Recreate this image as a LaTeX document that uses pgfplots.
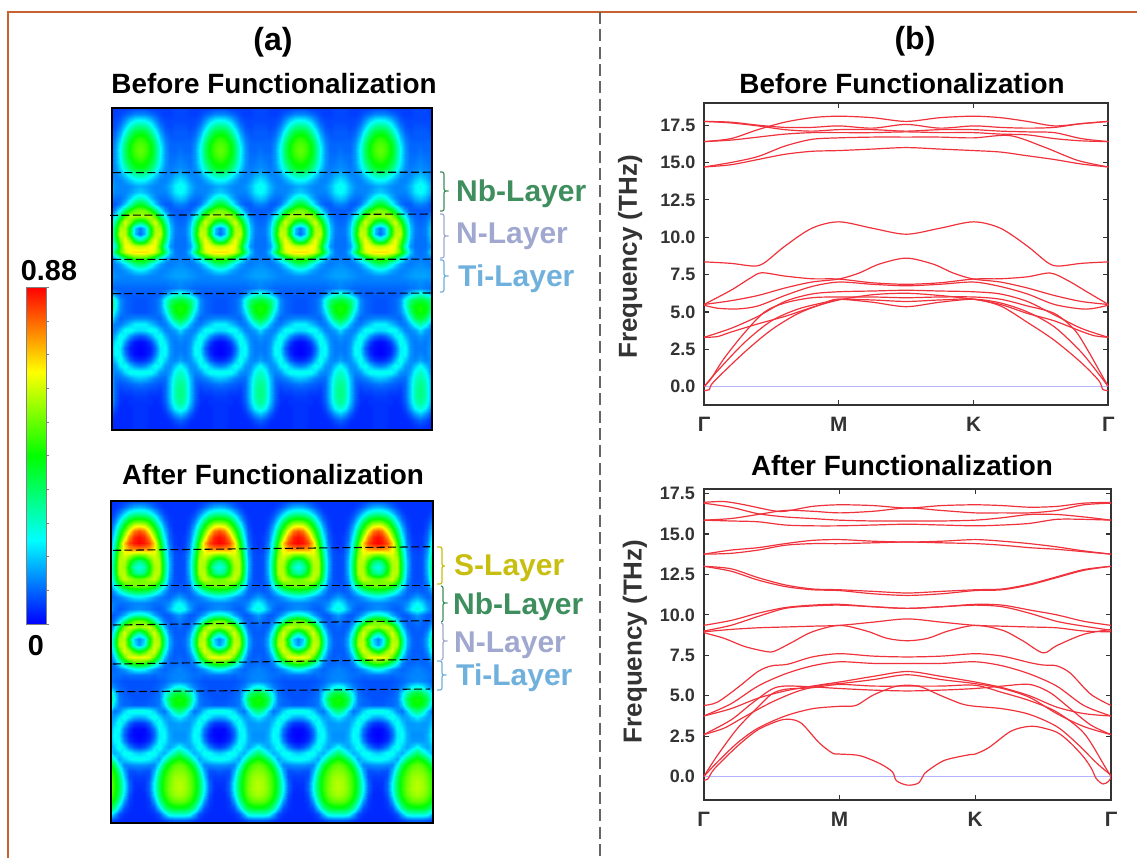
\documentclass[border=0pt]{standalone}
\usepackage{fontspec}
\setmainfont{Liberation Sans}
\usepackage{pgfplots}
\usepackage{pgfplotstable}
\pgfplotsset{compat=1.18}
\pgfplotsset{colormap={hm}{rgb255=(0,0,255) rgb255=(0,255,255) rgb255=(0,255,0) rgb255=(255,255,0) rgb255=(255,0,0)},colormap name=hm}
\pgfplotsset{table/x index=0,table/y index=0}
\definecolor{framecol}{HTML}{C8632F}
\definecolor{axcol}{HTML}{333333}
\definecolor{nbcol}{HTML}{3E8E5E}
\definecolor{ncol}{HTML}{A0A8D0}
\definecolor{ticol}{HTML}{6FB0DC}
\definecolor{scol}{HTML}{C8BE10}
\definecolor{bandcol}{HTML}{F0323C}
\newcommand{\fs}[1]{\fontsize{#1}{#1}\selectfont\bfseries}
\tikzset{band/.style={bandcol,line width=0.9pt,smooth,tension=0.5},
 dl/.style={black,line width=0.8pt,dash pattern=on 6pt off 2.6pt}}
\pgfplotsset{heat/.style={scale only axis,width=240pt,y dir=reverse,ticks=none,axis on top,
  axis line style={black,line width=2.2pt},point meta min=0,point meta max=1},
 tile/.style={surf,shader=interp,mesh/cols=9,point meta=\thisrow{z}},
 tileb/.style={surf,shader=interp,mesh/cols=9,point meta=\thisrow{z},opacity=0.5},
 bandax/.style={scale only axis,xmin=0,xmax=3,xtick={0,1,2,3},xticklabels={Γ,M,K,Γ},
  ytick={0,2.5,5,7.5,10,12.5,15,17.5},yticklabels={0.0,2.5,5.0,7.5,10.0,12.5,15.0,17.5},
  tick align=inside,tick pos=both,major tick length=3.75pt,
  tick style={axcol,line width=0.9pt},axis line style={axcol,line width=1.4pt},
  yticklabel style={font=\fs{13.5},text=axcol,xshift=-3pt},xticklabel style={font=\fs{15.6},text=axcol,yshift=-5.5pt}}}
\pgfplotstableread{
z
.07
.07
.06
.06
.06
.06
.06
.07
.07
.13
.13
.11
.09
.07
.06
.06
.07
.07
.25
.24
.2
.14
.09
.07
.07
.07
.07
.37
.35
.29
.2
.12
.08
.07
.08
.08
.47
.45
.38
.27
.16
.1
.08
.09
.09
.54
.52
.45
.34
.2
.12
.09
.09
.09
.58
.56
.5
.39
.24
.14
.1
.1
.1
.6
.57
.51
.41
.26
.15
.1
.1
.11
.58
.55
.5
.4
.25
.15
.11
.11
.12
.53
.51
.46
.37
.24
.15
.11
.12
.13
.48
.46
.41
.31
.21
.14
.12
.13
.14
.36
.34
.29
.22
.16
.13
.13
.16
.18
.25
.24
.2
.16
.13
.13
.15
.2
.23
.17
.16
.14
.13
.13
.14
.18
.24
.27
.2
.18
.15
.13
.13
.13
.17
.23
.26
.32
.28
.2
.14
.11
.11
.13
.18
.2
.47
.42
.31
.2
.12
.09
.09
.12
.13
.62
.6
.52
.4
.25
.14
.09
.09
.09
.66
.66
.68
.58
.4
.25
.13
.1
.09
.4
.47
.62
.71
.56
.36
.17
.11
.1
.12
.2
.46
.67
.66
.43
.2
.12
.11
.1
.19
.45
.68
.7
.45
.2
.12
.11
.33
.42
.63
.74
.62
.4
.18
.11
.11
.68
.7
.74
.74
.55
.3
.15
.11
.11
.78
.78
.76
.7
.58
.4
.2
.12
.11
.58
.56
.5
.42
.3
.18
.13
.12
.12
.4
.37
.3
.22
.16
.13
.12
.13
.14
.24
.22
.18
.15
.13
.13
.14
.15
.15
.14
.14
.13
.13
.13
.14
.15
.16
.16
.12
.12
.12
.12
.12
.12
.13
.13
.14
.1
.1
.1
.1
.1
.1
.11
.12
.13
.09
.09
.09
.09
.1
.14
.2
.27
.3
.08
.08
.09
.1
.14
.27
.38
.43
.45
.08
.08
.09
.1
.14
.27
.42
.5
.52
.08
.08
.09
.1
.13
.22
.38
.49
.52
.13
.13
.12
.11
.1
.16
.28
.42
.46
.24
.24
.2
.16
.12
.12
.18
.28
.34
.22
.23
.27
.26
.19
.13
.13
.16
.22
.08
.1
.15
.23
.27
.18
.13
.13
.15
.01
.02
.06
.15
.27
.23
.14
.12
.13
0
.01
.03
.1
.23
.26
.15
.12
.12
0
.01
.04
.12
.24
.25
.15
.12
.13
.04
.05
.09
.18
.28
.2
.14
.13
.16
.13
.15
.2
.27
.23
.15
.14
.2
.26
.27
.27
.27
.22
.15
.13
.16
.26
.31
.2
.19
.16
.13
.11
.11
.19
.3
.34
.12
.11
.1
.09
.08
.1
.2
.32
.37
.08
.08
.07
.07
.06
.1
.2
.33
.38
.06
.06
.05
.05
.05
.1
.2
.33
.38
.05
.05
.05
.04
.05
.09
.19
.31
.36
.05
.05
.04
.04
.04
.07
.15
.25
.3
.05
.05
.04
.04
.04
.05
.09
.15
.19
.05
.05
.04
.04
.04
.04
.05
.08
.1
.05
.05
.04
.04
.04
.04
.04
.05
.06
.05
.05
.04
.04
.04
.04
.04
.05
.05
}\TA
\pgfplotstableread{
z
.08
.08
.07
.06
.05
.05
.05
.05
.05
.18
.17
.14
.1
.07
.05
.05
.05
.05
.33
.32
.28
.2
.12
.07
.05
.05
.05
.52
.5
.45
.34
.2
.1
.06
.05
.05
.72
.7
.6
.47
.3
.15
.07
.05
.05
.92
.88
.75
.58
.4
.2
.09
.05
.05
.99
.96
.86
.68
.47
.25
.1
.06
.05
1
.98
.93
.8
.55
.3
.12
.06
.05
.87
.86
.84
.76
.6
.33
.14
.07
.06
.6
.62
.68
.72
.64
.37
.16
.08
.07
.36
.42
.55
.68
.68
.4
.18
.08
.07
.26
.32
.48
.66
.68
.42
.18
.08
.07
.34
.39
.52
.68
.68
.4
.17
.08
.07
.6
.62
.66
.7
.6
.36
.15
.08
.07
.63
.62
.6
.55
.44
.27
.12
.08
.08
.44
.43
.4
.34
.25
.16
.1
.09
.1
.24
.23
.2
.16
.13
.11
.1
.13
.16
.13
.13
.12
.11
.11
.12
.14
.21
.25
.14
.13
.12
.1
.09
.11
.17
.25
.29
.32
.3
.25
.17
.12
.09
.09
.12
.15
.62
.6
.5
.36
.22
.12
.09
.1
.12
.63
.67
.7
.62
.42
.2
.1
.09
.1
.33
.43
.6
.72
.58
.3
.14
.09
.09
.13
.2
.46
.68
.66
.38
.17
.1
.09
.15
.24
.5
.7
.67
.37
.17
.1
.09
.47
.54
.66
.72
.56
.29
.14
.09
.09
.73
.74
.72
.6
.42
.2
.11
.09
.1
.56
.54
.48
.38
.25
.13
.1
.1
.11
.27
.25
.2
.15
.12
.1
.11
.12
.13
.11
.11
.11
.1
.11
.11
.12
.13
.13
.08
.08
.08
.08
.09
.1
.12
.13
.14
.08
.08
.08
.09
.1
.13
.18
.25
.28
.08
.08
.08
.09
.11
.22
.34
.42
.45
.08
.08
.09
.1
.12
.25
.42
.5
.52
.09
.09
.1
.1
.12
.2
.37
.48
.5
.28
.28
.26
.21
.14
.11
.2
.33
.38
.17
.18
.23
.28
.22
.16
.16
.2
.24
.05
.06
.1
.2
.28
.2
.15
.15
.16
.01
.01
.05
.12
.25
.24
.16
.15
.15
0
.01
.03
.1
.23
.26
.17
.14
.14
.01
.02
.05
.13
.25
.24
.17
.15
.15
.06
.08
.13
.22
.28
.2
.16
.2
.26
.2
.22
.26
.27
.2
.17
.24
.33
.4
.27
.26
.24
.2
.16
.27
.4
.48
.52
.14
.14
.13
.13
.24
.42
.52
.58
.6
.09
.08
.08
.17
.34
.5
.57
.62
.63
.06
.06
.08
.21
.4
.53
.6
.65
.66
.05
.05
.1
.25
.42
.54
.61
.66
.68
.04
.05
.1
.25
.42
.54
.62
.66
.68
.04
.04
.08
.22
.4
.52
.6
.64
.66
.04
.04
.06
.15
.33
.47
.55
.59
.6
.04
.04
.05
.08
.2
.36
.44
.47
.48
.04
.04
.04
.05
.08
.18
.28
.3
.3
.04
.04
.04
.04
.05
.07
.09
.1
.1
.04
.04
.04
.04
.04
.04
.05
.05
.06
}\TB
% the same tables with the order of their rows turned round
\pgfplotstablecreatecol[create col/expr={(54-floor((\pgfplotstablerow+0.5)/9))*9+mod(\pgfplotstablerow,9)}]{k}\TA
\pgfplotstablecreatecol[create col/expr={(54-floor((\pgfplotstablerow+0.5)/9))*9+mod(\pgfplotstablerow,9)}]{k}\TB
\pgfplotstablesort[sort key=k,sort cmp=float <]{\TAr}{\TA}
\pgfplotstablesort[sort key=k,sort cmp=float <]{\TBr}{\TB}
\begin{document}
\begin{tikzpicture}
\path[use as bounding box] (0,0) rectangle (852.75pt,-643.5pt);
% heat map before
\begin{axis}[heat,at={(84pt,-322.5pt)},anchor=south west,height=241.5pt,xmin=112,xmax=432,ymin=108,ymax=430]
\pgfplotsinvokeforeach{140,220,300,380}{
 \addplot[tile] table[x expr={#1+5*mod(\coordindex,9)},y expr={108+6*floor((\coordindex+0.5)/9)}] {\TA};}
\pgfplotsinvokeforeach{140,220,300,380,460}{
 \addplot[tile] table[x expr={#1-5*mod(\coordindex,9)},y expr={108+6*(54-floor((\coordindex+0.5)/9))}] {\TAr};}
\pgfplotsinvokeforeach{140,220,300,380}{
 \addplot[tileb] table[x expr={#1+5*mod(\coordindex,9)},y expr={108+6*(54-floor((\coordindex+0.5)/9))}] {\TAr};}
\pgfplotsinvokeforeach{140,220,300,380,460}{
 \addplot[tileb] table[x expr={#1-5*mod(\coordindex,9)},y expr={108+6*floor((\coordindex+0.5)/9)}] {\TA};}
\end{axis}
% heat map after
\begin{axis}[heat,at={(83.25pt,-617.25pt)},anchor=south west,height=241.5pt,width=241.5pt,xmin=111,xmax=433,ymin=501.5,ymax=823]
\pgfplotsinvokeforeach{139.3,218.7,298.1,377.5}{
 \addplot[tile] table[x expr={#1+4.96*mod(\coordindex,9)},y expr={501.5+6*floor((\coordindex+0.5)/9)}] {\TB};}
\pgfplotsinvokeforeach{139.3,218.7,298.1,377.5,456.9}{
 \addplot[tile] table[x expr={#1-4.96*mod(\coordindex,9)},y expr={501.5+6*(54-floor((\coordindex+0.5)/9))}] {\TBr};}
\pgfplotsinvokeforeach{139.3,218.7,298.1,377.5}{
 \addplot[tileb] table[x expr={#1+4.96*mod(\coordindex,9)},y expr={501.5+6*(54-floor((\coordindex+0.5)/9))}] {\TBr};}
\pgfplotsinvokeforeach{139.3,218.7,298.1,377.5,456.9}{
 \addplot[tileb] table[x expr={#1-4.96*mod(\coordindex,9)},y expr={501.5+6*floor((\coordindex+0.5)/9)}] {\TB};}
\end{axis}
% colour bar
\begin{axis}[scale only axis,at={(19.5pt,-468pt)},anchor=south west,width=15pt,height=252.5pt,xmin=0,xmax=1,ymin=0,ymax=1,
  xtick=\empty,ytick={0,.1,...,1},yticklabels={},tick align=outside,ytick pos=right,major tick length=2pt,
  tick style={black!50,line width=0.4pt},axis line style={black!50,line width=0.6pt},point meta min=0,point meta max=1,axis on top]
\addplot[surf,shader=interp,mesh/cols=2,point meta=y] coordinates {(0,0)(1,0)(0,.25)(1,.25)(0,.5)(1,.5)(0,.75)(1,.75)(0,1)(1,1)};
\end{axis}
% phonons before
\begin{axis}[bandax,at={(528pt,-303.75pt)},anchor=south west,width=303.2pt,height=226.7pt,ymin=-1.23,ymax=19,
  ylabel={Frequency (THz)},ylabel style={font=\fs{19.5},text=axcol,at={(axis description cs:-0.183,0.49)},anchor=center}]
\addplot[blue!30,line width=0.5pt] coordinates {(0,0)(3,0)};
\addplot[band] coordinates {(0,16.4)(.2,16.6)(.4,17.2)(.6,17.7)(.8,18.0)(1,18.1)(1.25,18.0)(1.5,17.75)(1.75,18.0)(2,18.1)(2.2,18.0)(2.4,17.75)(2.6,17.45)(2.8,17.6)(3,17.75)};
\addplot[band] coordinates {(0,17.75)(.2,17.7)(.4,17.5)(.6,17.35)(.8,17.35)(1,17.45)(1.25,17.3)(1.5,17.55)(1.75,17.3)(2,17.45)(2.2,17.35)(2.4,17.3)(2.6,17.35)(2.8,17.6)(3,17.75)};
\addplot[band] coordinates {(0,17.75)(.2,17.65)(.4,17.45)(.6,17.2)(.8,17.1)(1,17.2)(1.25,17.2)(1.5,17.1)(1.75,17.2)(2,17.2)(2.2,17.1)(2.4,17.05)(2.6,17.0)(2.8,16.6)(3,16.4)};
\addplot[band] coordinates {(0,16.4)(.2,16.5)(.4,16.7)(.6,16.9)(.8,17)(1,17)(1.25,17)(1.5,17.05)(1.75,17.0)(2,17)(2.2,16.9)(2.4,16.85)(2.6,16.6)(2.8,16.45)(3,16.4)};
\addplot[band] coordinates {(0,14.7)(.2,15)(.4,15.4)(.6,16.1)(.8,16.55)(1,16.65)(1.25,16.7)(1.5,16.7)(1.75,16.7)(2,16.65)(2.27,16.8)(2.52,16.05)(2.77,15.15)(3,14.7)};
\addplot[band] coordinates {(0,14.7)(.2,14.85)(.4,15.2)(.6,15.55)(.8,15.75)(1,15.8)(1.25,15.9)(1.5,16.0)(1.75,15.9)(2,15.8)(2.2,15.7)(2.4,15.45)(2.6,15.2)(2.8,14.9)(3,14.7)};
\addplot[band] coordinates {(0,8.35)(.2,8.25)(.37,8.07)(.45,8.3)(.6,9.4)(.8,10.6)(1,11.03)(1.25,10.6)(1.5,10.2)(1.75,10.6)(2,11.03)(2.2,10.6)(2.4,9.4)(2.55,8.3)(2.63,8.07)(2.8,8.25)(3,8.35)};
\addplot[band] coordinates {(0,5.5)(.2,6.45)(.35,7.3)(.43,7.62)(.6,7.4)(.8,7.22)(1,7.2)(1.25,6.95)(1.5,6.85)(1.75,6.95)(2,7.2)(2.2,7.22)(2.4,7.35)(2.57,7.6)(2.7,7.1)(2.85,6.3)(3,5.5)};
\addplot[band] coordinates {(0,5.5)(.2,5.75)(.4,6.1)(.6,6.6)(.8,7.0)(1,7.2)(1.15,7.6)(1.3,8.2)(1.5,8.6)(1.7,8.2)(1.85,7.6)(2,7.2)(2.2,7.0)(2.4,6.6)(2.6,6.1)(2.8,5.7)(3,5.5)};
\addplot[band] coordinates {(0,5.45)(.1,5.25)(.25,5.2)(.4,5.4)(.6,6.1)(.8,6.7)(1,7.0)(1.25,6.85)(1.5,6.75)(1.75,6.85)(2,7.0)(2.2,6.7)(2.4,6.2)(2.6,5.5)(2.8,5.2)(2.9,5.25)(3,5.45)};
\addplot[band] coordinates {(0,3.3)(.2,3.9)(.4,4.7)(.6,5.7)(.8,6.2)(1,6.35)(1.25,6.4)(1.5,6.45)(1.75,6.4)(2,6.35)(2.2,6.2)(2.4,5.7)(2.6,4.8)(2.8,3.9)(3,3.3)};
\addplot[band] coordinates {(0,3.3)(.1,3.35)(.2,3.65)(.4,4.2)(.6,4.7)(.8,5.3)(1,5.8)(1.25,6.15)(1.5,6.25)(1.75,6.1)(2,5.85)(2.2,5.5)(2.4,4.9)(2.6,4.4)(2.8,3.7)(2.9,3.4)(3,3.3)};
\addplot[band] coordinates {(0,0)(.05,.5)(.15,1.9)(.3,3.6)(.45,5.0)(.6,5.6)(.8,5.95)(1,6.0)(1.25,6.0)(1.5,5.95)(1.75,6.0)(2,6.0)(2.2,5.85)(2.4,5.4)(2.6,4.9)(2.75,3.8)(2.85,2.4)(2.95,.8)(3,0)};
\addplot[band] coordinates {(0,0)(.1,1.05)(.3,2.95)(.5,4.4)(.7,5.2)(.9,5.65)(1,5.85)(1.25,5.65)(1.5,5.35)(1.75,5.65)(2,5.85)(2.2,5.6)(2.4,5)(2.6,4)(2.8,2.3)(2.95,.6)(3,0)};
\addplot[band] coordinates {(0,-.25)(.04,-.2)(.07,.3)(.3,2.3)(.5,3.8)(.7,4.9)(.9,5.6)(1,5.85)(1.25,5.8)(1.5,5.7)(1.75,5.8)(2,5.85)(2.2,5.4)(2.4,4.3)(2.6,3.1)(2.8,1.6)(2.93,.4)(2.96,-.2)(3,-.25)};
\end{axis}
% phonons after
\begin{axis}[bandax,at={(527.75pt,-600pt)},anchor=south west,width=305.5pt,height=233.2pt,ymin=-1.44,ymax=17.77,
  ylabel={Frequency (THz)},ylabel style={font=\fs{19.5},text=axcol,at={(axis description cs:-0.169,0.51)},anchor=center}]
\addplot[blue!30,line width=0.5pt] coordinates {(0,0)(3,0)};
\addplot[band] coordinates {(0,16.95)(.15,17)(.3,16.8)(.5,16.45)(.6,16.4)(.8,16.7)(1,16.8)(1.25,16.75)(1.5,16.6)(1.75,16.75)(2,16.8)(2.2,16.75)(2.4,16.65)(2.6,16.7)(2.8,16.9)(3,16.95)};
\addplot[band] coordinates {(0,16.9)(.2,16.65)(.4,16.25)(.6,16.05)(.8,15.95)(1,15.85)(1.25,15.8)(1.5,15.8)(1.75,15.8)(2,15.85)(2.2,16)(2.4,16.2)(2.6,16.2)(2.8,16.05)(3,15.85)};
\addplot[band] coordinates {(0,15.85)(.2,15.95)(.4,16.2)(.6,16.45)(.8,16.4)(1,16.3)(1.25,16.4)(1.5,16.6)(1.75,16.45)(2,16.3)(2.2,16.3)(2.4,16.3)(2.6,16.45)(2.8,16.8)(3,16.9)};
\addplot[band] coordinates {(0,15.85)(.2,15.8)(.4,15.75)(.6,15.55)(.8,15.5)(1,15.5)(1.25,15.55)(1.5,15.6)(1.75,15.55)(2,15.5)(2.2,15.55)(2.4,15.65)(2.6,15.9)(2.8,15.9)(3,15.85)};
\addplot[band] coordinates {(0,13.75)(.2,14)(.4,14.15)(.6,14.4)(.8,14.6)(1,14.65)(1.25,14.55)(1.5,14.5)(1.75,14.55)(2,14.65)(2.2,14.55)(2.4,14.4)(2.6,14.2)(2.8,13.95)(3,13.75)};
\addplot[band] coordinates {(0,13.75)(.2,13.8)(.4,14)(.6,14.3)(.8,14.4)(1,14.4)(1.25,14.45)(1.5,14.5)(1.75,14.45)(2,14.4)(2.2,14.3)(2.4,14.15)(2.6,14.05)(2.8,13.9)(3,13.75)};
\addplot[band] coordinates {(0,13)(.2,12.85)(.4,12.3)(.6,11.85)(.8,11.6)(1,11.55)(1.25,11.45)(1.5,11.35)(1.75,11.45)(2,11.55)(2.2,11.6)(2.4,11.9)(2.6,12.35)(2.8,12.8)(3,13)};
\addplot[band] coordinates {(0,13)(.2,12.7)(.4,12.15)(.6,11.75)(.8,11.55)(1,11.5)(1.25,11.3)(1.5,11.2)(1.75,11.3)(2,11.5)(2.2,11.55)(2.4,11.85)(2.6,12.3)(2.8,12.75)(3,13)};
\addplot[band] coordinates {(0,9.35)(.2,9.65)(.4,10.1)(.6,10.45)(.8,10.6)(1,10.65)(1.25,10.5)(1.5,10.4)(1.75,10.5)(2,10.65)(2.2,10.6)(2.4,10.3)(2.6,10.0)(2.8,9.6)(3,9.35)};
\addplot[band] coordinates {(0,9.0)(.2,9.35)(.4,9.9)(.6,10.4)(.8,10.55)(1,10.6)(1.25,10.5)(1.5,10.4)(1.75,10.5)(2,10.6)(2.2,10.5)(2.4,10.1)(2.6,9.6)(2.8,9.3)(3,9.05)};
\addplot[band] coordinates {(0,8.95)(.2,9.1)(.4,9.2)(.6,9.25)(.8,9.3)(1,9.35)(1.25,9.55)(1.5,9.75)(1.75,9.55)(2,9.35)(2.2,9.3)(2.4,9.25)(2.6,9.2)(2.8,9.0)(3,8.95)};
\addplot[band] coordinates {(0,8.9)(.15,8.55)(.3,8.05)(.45,7.75)(.52,7.75)(.65,8.3)(.8,8.95)(1,9.35)(1.2,9.0)(1.35,8.55)(1.5,8.4)(1.65,8.55)(1.8,9.0)(2,9.35)(2.2,9.05)(2.35,8.4)(2.5,7.65)(2.6,8.1)(2.8,8.8)(3,9.1)};
\addplot[band] coordinates {(0,4.4)(.1,4.6)(.25,5.5)(.4,6.5)(.5,6.85)(.62,6.95)(.8,7.4)(1,7.6)(1.25,7.45)(1.5,7.4)(1.75,7.45)(2,7.6)(2.2,7.45)(2.4,7.05)(2.5,6.9)(2.6,6.85)(2.7,6.4)(2.85,5.1)(3,4.4)};
\addplot[band] coordinates {(0,3.75)(.2,4.5)(.4,5.6)(.6,6.35)(.8,6.85)(1,7.1)(1.25,7.0)(1.5,7.0)(1.75,7.0)(2,7.1)(2.2,6.85)(2.4,6.35)(2.6,5.6)(2.8,4.4)(3,3.75)};
\addplot[band] coordinates {(0,3.75)(.2,4.2)(.4,4.85)(.6,5.3)(.8,5.6)(1,5.85)(1.25,6.2)(1.5,6.5)(1.75,6.2)(2,5.85)(2.2,5.5)(2.4,5.0)(2.6,4.3)(2.8,3.9)(3,3.75)};
\addplot[band] coordinates {(0,2.6)(.2,3.5)(.35,4.5)(.5,5.4)(.6,5.6)(.8,5.55)(1,5.45)(1.25,5.35)(1.5,5.3)(1.75,5.35)(2,5.45)(2.2,5.6)(2.4,5.7)(2.55,5.2)(2.7,4.2)(2.85,3.2)(3,2.6)};
\addplot[band] coordinates {(0,2.6)(.15,3)(.3,3.7)(.5,4.6)(.7,5.3)(.9,5.7)(1,5.75)(1.25,6.0)(1.5,6.3)(1.75,6)(2,5.75)(2.2,5.45)(2.4,4.9)(2.6,3.9)(2.8,3.1)(3,2.6)};
\addplot[band] coordinates {(0,0)(.1,1.3)(.25,3.0)(.4,4.3)(.5,5.1)(.6,5.4)(.8,5.5)(1,5.7)(1.25,5.6)(1.5,5.6)(1.75,5.6)(2,5.65)(2.2,5.2)(2.4,4.7)(2.6,4.0)(2.8,2.7)(2.95,.7)(3,0)};
\addplot[band] coordinates {(0,0)(.1,.9)(.25,2.1)(.4,3)(.6,3.75)(.8,4.2)(1,4.35)(1.12,4.4)(1.25,5.05)(1.4,5.55)(1.5,5.65)(1.6,5.55)(1.75,5)(1.9,4.5)(2,4.35)(2.2,4.2)(2.4,3.85)(2.6,3.1)(2.75,2.05)(2.9,.8)(3,.1)};
\addplot[band] coordinates {(0,-.2)(.03,-.15)(.08,.5)(.25,1.9)(.4,2.9)(.55,3.45)(.63,3.55)(.72,3.3)(.85,2.1)(.95,1.45)(1,1.4)(1.15,1.3)(1.3,.8)(1.39,.3)(1.42,-.25)(1.5,-.52)(1.58,-.4)(1.62,.1)(1.64,.3)(1.77,1.0)(1.95,1.35)(2,1.4)(2.1,1.8)(2.25,2.75)(2.35,3.05)(2.45,3.1)(2.6,2.75)(2.7,2.1)(2.8,1.2)(2.86,.45)(2.89,-.1)(2.94,-.45)(2.98,-.3)(3,-.05)};
\end{axis}
\begin{scope}[x=0.75pt,y=-0.75pt]
% frame and divider
\draw[framecol,line width=1.6pt] (1137,12) -- (8,12) -- (8,858);
\draw[black!60,line width=2.2pt,dash pattern=on 9pt off 4pt] (600,12) -- (600,858);
% headings
\node[font=\fs{24}] at (273,42) {(a)};
\node[font=\fs{24}] at (915,41) {(b)};
\node[font=\fs{20.9}] at (274,84) {Before Functionalization};
\node[font=\fs{20.9}] at (273,475) {After Functionalization};
\node[font=\fs{20.9}] at (902,84) {Before Functionalization};
\node[font=\fs{20.9}] at (902,466) {After Functionalization};
\node[font=\fs{21.6}] at (49,271) {0.88};
\node[font=\fs{21.6}] at (36,646) {0};
% dashed layer lines
\draw[dl] (113,172.6) -- (432,172.2);
\draw[dl] (110,215.3) -- (432,214);
\draw[dl] (113,259.3) -- (432,259.2);
\draw[dl] (113,293.7) -- (432,293);
\draw[dl] (113,550.3) -- (430,546.7);
\draw[dl] (114,585.3) -- (430,585.3);
\draw[dl] (113,625) -- (430,620.7);
\draw[dl] (113,664) -- (430,659.3);
\draw[dl] (116,691.7) -- (430,689);
% brackets
\draw[nbcol,line width=0.9pt,rounded corners=1.5pt] (440,172)--(444,172)--(444,191)--(447,191)--(444,191)--(444,211)--(440,211);
\draw[ncol,line width=0.9pt,rounded corners=1.5pt] (440,214)--(444,214)--(444,236)--(447,236)--(444,236)--(444,258)--(440,258);
\draw[ticol,line width=0.9pt,rounded corners=1.5pt] (440,260)--(444,260)--(444,276)--(447,276)--(444,276)--(444,292)--(440,292);
\draw[scol,line width=0.9pt,rounded corners=1.5pt] (437,547)--(442,547)--(442,566)--(446,566)--(442,566)--(442,584)--(437,584);
\draw[nbcol,line width=0.9pt,rounded corners=1.5pt] (441,586)--(443,586)--(443,603)--(446,603)--(443,603)--(443,622)--(441,622);
\draw[ncol,line width=0.9pt,rounded corners=1.5pt] (441,623)--(443,623)--(443,641)--(446,641)--(443,641)--(443,660)--(441,660);
\draw[ticol,line width=0.9pt,rounded corners=1.5pt] (437,661)--(442,661)--(442,675)--(445,675)--(442,675)--(442,690)--(437,690);
\node[font=\fs{22.5},text=nbcol,anchor=west] at (451.5,194) {Nb-Layer};
\node[font=\fs{22.5},text=ncol,anchor=west] at (451.5,236) {N-Layer};
\node[font=\fs{22.5},text=ticol,anchor=west] at (453.5,279) {Ti-Layer};
\node[font=\fs{22.5},text=scol,anchor=west] at (449.5,568) {S-Layer};
\node[font=\fs{22.5},text=nbcol,anchor=west] at (448.5,607) {Nb-Layer};
\node[font=\fs{22.5},text=ncol,anchor=west] at (449.5,645) {N-Layer};
\node[font=\fs{22.5},text=ticol,anchor=west] at (451.5,678) {Ti-Layer};
\end{scope}
\end{tikzpicture}
\end{document}
